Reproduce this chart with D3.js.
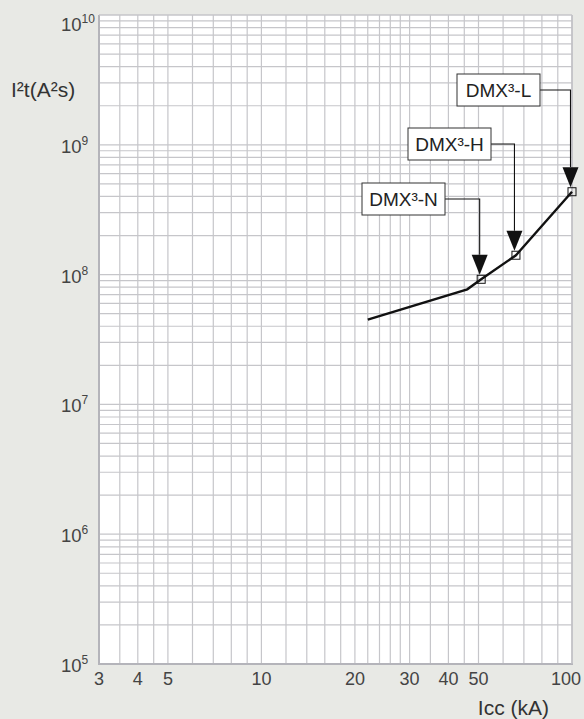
<!DOCTYPE html>
<html>
<head>
<meta charset="utf-8">
<script src="https://cdn.jsdelivr.net/npm/d3@7"></script>
<style>
  html, body { margin: 0; padding: 0; background: #e8e9e5; }
  svg { display: block; font-family: "Liberation Sans", Arial, Helvetica, sans-serif; }
</style>
</head>
<body>
<svg id="chart" width="584" height="719"></svg>
<script>
// ---- data ----
const xTickValues = [3, 4, 5, 10, 20, 30, 40, 50, 100];
const xGridValues = [3.5, 4, 4.5, 5, 6, 7, 8, 9, 10, 12, 14, 16, 18, 20, 22, 24, 26, 28, 30, 35, 40, 45, 50, 60, 70, 80, 90, 100];
const yExponents = [5, 6, 7, 8, 9, 10];
const yGridMultipliers = [1, 2, 3, 4, 5, 6, 7, 8, 9];
const curveIcc = [22, 46, 51, 66, 100];
const curveI2t = [4.5e7, 7.7e7, 9.2e7, 1.41e8, 4.35e8];
const ratingNames = ["DMX³-N", "DMX³-H", "DMX³-L"];
const ratingIcc = [51, 66, 100];
const ratingI2t = [9.2e7, 1.41e8, 4.35e8];
const xTitle = "Icc (kA)";
const yTitle = "I²t(A²s)";

// ---- layout ----
const plot = { left: 99, right: 572, top: 15, bottom: 664 };
const boxW = 83, boxH = 32;
const boxPos = [ {x: 362, y: 183}, {x: 408, y: 128}, {x: 457, y: 74} ];

const svg = d3.select("#chart");
const x = d3.scaleLog().domain([3, 100]).range([plot.left, plot.right]);
const y = d3.scaleLog().domain([1e5, 1e10]).range([plot.bottom, plot.top]);

svg.append("rect")
  .attr("x", plot.left).attr("y", plot.top)
  .attr("width", plot.right - plot.left).attr("height", plot.bottom - plot.top)
  .attr("fill", "#ffffff");

// horizontal grid
const yGrid = [];
yExponents.forEach(e => {
  if (e === 10) { yGrid.push(1e10); return; }
  yGridMultipliers.forEach(m => yGrid.push(m * Math.pow(10, e)));
});
svg.append("g").selectAll("line").data(yGrid).join("line")
  .attr("x1", plot.left).attr("x2", plot.right)
  .attr("y1", d => y(d)).attr("y2", d => y(d))
  .attr("stroke", "#c6c6ca").attr("stroke-width", 1.2);

// vertical grid
svg.append("g").selectAll("line").data(xGridValues).join("line")
  .attr("x1", d => x(d)).attr("x2", d => x(d))
  .attr("y1", plot.top).attr("y2", plot.bottom)
  .attr("stroke", "#c6c6ca").attr("stroke-width", 1.2);

// frame
svg.append("line").attr("x1", plot.left).attr("x2", plot.left)
  .attr("y1", plot.top).attr("y2", plot.bottom + 1)
  .attr("stroke", "#b4b4ba").attr("stroke-width", 2);
svg.append("line").attr("x1", plot.left).attr("x2", plot.right + 1)
  .attr("y1", plot.bottom).attr("y2", plot.bottom)
  .attr("stroke", "#b4b4ba").attr("stroke-width", 2);
svg.append("line").attr("x1", plot.right).attr("x2", plot.right)
  .attr("y1", plot.top).attr("y2", plot.bottom)
  .attr("stroke", "#c0c0c4").attr("stroke-width", 1.5);
svg.append("line").attr("x1", plot.left).attr("x2", plot.right)
  .attr("y1", plot.top).attr("y2", plot.top)
  .attr("stroke", "#c6c6ca").attr("stroke-width", 1.2);

// x tick labels
svg.append("g").selectAll("text").data(xTickValues).join("text")
  .attr("x", d => Math.min(x(d), 566))
  .attr("y", 685)
  .attr("text-anchor", "middle")
  .attr("font-size", 18)
  .attr("fill", "#444")
  .text(d => d);

// y tick labels
const yl = svg.append("g").selectAll("text").data(yExponents).join("text")
  .attr("x", 61)
  .attr("y", d => Math.max(y(Math.pow(10, d)) + 8, 31))
  .attr("font-size", 18.5)
  .attr("fill", "#444");
yl.append("tspan").text("10");
yl.append("tspan").attr("dy", -8).attr("font-size", 12).text(d => d);

// axis titles
svg.append("text").attr("x", 11).attr("y", 97)
  .attr("font-size", 21).attr("fill", "#333").text(yTitle);
svg.append("text").attr("x", 549).attr("y", 715)
  .attr("text-anchor", "end")
  .attr("font-size", 21).attr("fill", "#333").text(xTitle);

// curve
const pts = curveIcc.map((c, i) => [x(c), y(curveI2t[i])]);
svg.append("path")
  .attr("d", d3.line()(pts))
  .attr("fill", "none").attr("stroke", "#111").attr("stroke-width", 2.4)
  .attr("stroke-linejoin", "miter");

// rating markers
const ms = 8;
svg.append("g").selectAll("rect").data(ratingIcc).join("rect")
  .attr("x", (d, i) => x(d) - ms / 2)
  .attr("y", (d, i) => y(ratingI2t[i]) - ms / 2)
  .attr("width", ms).attr("height", ms)
  .attr("fill", "none").attr("stroke", "#111").attr("stroke-width", 1);

// callouts
const arrowH = 20, arrowW = 16;
ratingNames.forEach((name, i) => {
  const b = boxPos[i];
  const px = x(ratingIcc[i]) - 1.5;
  const tipY = y(ratingI2t[i]) - ms / 2 - 0.5;
  const midY = b.y + boxH / 2;
  const g = svg.append("g");
  g.append("path")
    .attr("d", `M${b.x + boxW},${midY}H${px}V${tipY - arrowH}`)
    .attr("fill", "none").attr("stroke", "#111").attr("stroke-width", 1.1);
  g.append("path")
    .attr("d", `M${px - arrowW / 2},${tipY - arrowH}L${px + arrowW / 2},${tipY - arrowH}L${px},${tipY}Z`)
    .attr("fill", "#111");
  g.append("rect")
    .attr("x", b.x).attr("y", b.y).attr("width", boxW).attr("height", boxH)
    .attr("fill", "#fff").attr("stroke", "#333").attr("stroke-width", 1);
  g.append("text")
    .attr("x", b.x + boxW / 2).attr("y", b.y + 23)
    .attr("text-anchor", "middle")
    .attr("font-size", 19).attr("fill", "#222")
    .text(name);
});
</script>
</body>
</html>
